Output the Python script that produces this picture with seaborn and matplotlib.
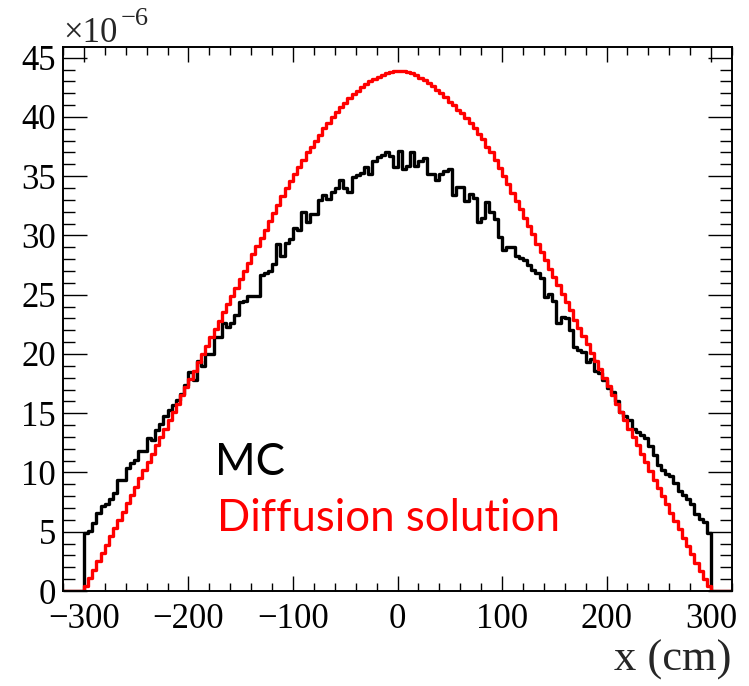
import numpy as np
import pandas as pd
import matplotlib
matplotlib.use("Agg")
import matplotlib.pyplot as plt
import seaborn as sns

# ---- data (values in units of 1e-6) ----
x_centers = np.arange(-298, 300, 4)          # 150 bins of 4 cm between -300 and 300

diffusion = [
    0.4, 1.1, 1.8, 2.5, 3.2, 3.9, 4.6, 5.3, 6.0, 6.7,
    7.4, 8.1, 8.8, 9.5, 10.2, 10.9, 11.6, 12.3, 13.0, 13.7,
    14.4, 15.1, 15.8, 16.5, 17.2, 17.9, 18.6, 19.3, 20.0, 20.7,
    21.4, 22.1, 22.8, 23.5, 24.2, 24.9, 25.6, 26.3, 27.0, 27.7,
    28.4, 29.1, 29.8, 30.5, 31.2, 31.9, 32.6, 33.3, 34.0, 34.6,
    35.2, 35.8, 36.4, 37.0, 37.5, 38.0, 38.5, 39.1, 39.5, 40.0,
    40.4, 40.8, 41.2, 41.6, 41.9, 42.2, 42.5, 42.8, 43.0, 43.2,
    43.4, 43.55, 43.7, 43.8, 43.9, 43.9, 43.9, 43.8, 43.7, 43.5,
    43.3, 43.1, 42.9, 42.6, 42.3, 42.0, 41.7, 41.3, 41.0, 40.6,
    40.3, 39.9, 39.5, 39.1, 38.6, 38.1, 37.5, 37.0, 36.4, 35.7,
    35.0, 34.3, 33.6, 32.9, 32.2, 31.5, 30.8, 30.1, 29.3, 28.6,
    27.9, 27.2, 26.5, 25.8, 25.1, 24.4, 23.7, 22.9, 22.2, 21.5,
    20.8, 20.1, 19.4, 18.7, 18.0, 17.3, 16.5, 15.8, 15.1, 14.4,
    13.7, 13.0, 12.3, 11.6, 10.9, 10.1, 9.4, 8.7, 8.0, 7.3,
    6.6, 5.9, 5.2, 4.5, 3.8, 3.1, 2.4, 1.7, 1.0, 0.4,
]

mc = [
    4.9, 5.1, 5.7, 6.6, 7.2, 7.3, 7.8, 8.3, 9.4, 9.4,
    10.4, 10.8, 11.05, 11.8, 11.8, 12.9, 12.75, 13.6, 14.1, 14.8,
    15.3, 15.7, 16.1, 16.6, 17.4, 18.5, 17.8, 19.4, 19.0, 20.0,
    20.0, 21.4, 21.4, 22.6, 22.3, 22.6, 23.3, 24.4, 24.5, 24.9,
    24.9, 24.9, 26.65, 26.85, 27.0, 27.6, 29.3, 28.3, 29.4, 29.7,
    30.6, 30.45, 32.0, 31.1, 31.85, 31.85, 33.0, 33.4, 33.1, 33.7,
    34.0, 34.7, 34.0, 33.7, 34.9, 35.1, 35.3, 35.8, 35.2, 36.3,
    36.6, 36.8, 37.05, 36.7, 35.8, 37.1, 35.6, 35.9, 37.0, 35.9,
    36.3, 36.5, 35.2, 35.2, 34.7, 35.2, 35.4, 35.6, 33.4, 34.1,
    34.1, 32.9, 33.5, 33.2, 31.1, 31.5, 32.8, 32.0, 31.4, 29.9,
    28.8, 29.0, 29.0, 28.3, 28.1, 27.9, 27.5, 27.1, 26.8, 26.4,
    24.8, 25.1, 24.5, 22.6, 23.1, 23.0, 22.0, 20.6, 20.3, 20.2,
    19.3, 19.6, 18.6, 18.4, 17.8, 17.1, 16.8, 16.0, 15.1, 14.8,
    14.4, 13.7, 13.4, 13.2, 12.9, 12.2, 11.5, 10.6, 10.2, 9.9,
    9.7, 9.1, 8.4, 8.1, 7.8, 7.3, 6.5, 6.1, 5.8, 4.9,
]

x_ticks = [-300, -200, -100, 0, 100, 200, 300]
y_ticks = [0, 5, 10, 15, 20, 25, 30, 35, 40, 45]
series_labels = ["MC", "Diffusion solution"]
series_colors = ["black", "#ff0000"]

df = pd.DataFrame({"x": np.concatenate([x_centers, x_centers]).astype(float),
                   "w": np.array(mc + diffusion, dtype=float),
                   "series": [series_labels[0]] * len(mc) + [series_labels[1]] * len(diffusion)})

sns.set_style("ticks")
SERIF = ["Liberation Serif", "DejaVu Serif"]
plt.rcParams["font.family"] = SERIF
plt.rcParams["axes.unicode_minus"] = True

W, H = 749, 686
fig = plt.figure(figsize=(W / 100, H / 100), dpi=100)
ax = fig.add_axes([63 / W, 1 - 591 / H, (732 - 63) / W, (591 - 47) / H])

for lab, col in zip(series_labels, series_colors):
    sub = df[df["series"] == lab].reset_index(drop=True)
    sns.histplot(data=sub, x="x", weights="w", binwidth=4, binrange=(-320, 320),
                 element="step", fill=False, color=col, linewidth=2.4, ax=ax)

ax.set_xlim(-320, 320)
ax.set_ylim(0, 45.9)
ax.set_xticks(x_ticks, labels=[f"{v}".replace("-", "\u2212") for v in x_ticks],
              fontfamily=SERIF, fontsize=25)
ax.set_yticks(y_ticks, labels=[str(v) for v in y_ticks],
              fontfamily=SERIF, fontsize=25)
ax.set_xticks(np.arange(-320, 321, 20), minor=True)
ax.set_yticks(np.arange(0, 46, 1), minor=True)
ax.tick_params(which="both", direction="in", top=True, right=True,
               colors="black", width=1.0)
ax.tick_params(axis="x", which="major", length=10.5, pad=9)
ax.tick_params(axis="x", which="minor", length=5.5)
ax.tick_params(axis="y", which="major", length=17, pad=5)
ax.tick_params(axis="y", which="minor", length=8.5)
for s in ax.spines.values():
    s.set_linewidth(1.4)
    s.set_color("black")

ax.set_ylabel("")
ax.set_xlabel("x (cm)", loc="right", fontsize=32, labelpad=2, fontfamily=SERIF)

# ROOT-style exponent above the y axis
fig.text(63 / W, 1 - 42 / H, "\u00d710", fontsize=25, ha="left", va="baseline",
         fontfamily=SERIF)
fig.text(121 / W, 1 - 25 / H, "\u22126", fontsize=19, ha="left", va="baseline",
         fontfamily=SERIF)

fig.text(215 / W, 1 - 475 / H, series_labels[0], color=series_colors[0],
         fontsize=31.5, family=["Lato", "DejaVu Sans"], ha="left", va="baseline")
fig.text(217 / W, 1 - 531 / H, series_labels[1], color=series_colors[1],
         fontsize=31.5, family=["Lato", "DejaVu Sans"], ha="left", va="baseline")

fig.savefig("out.png", dpi=100)
